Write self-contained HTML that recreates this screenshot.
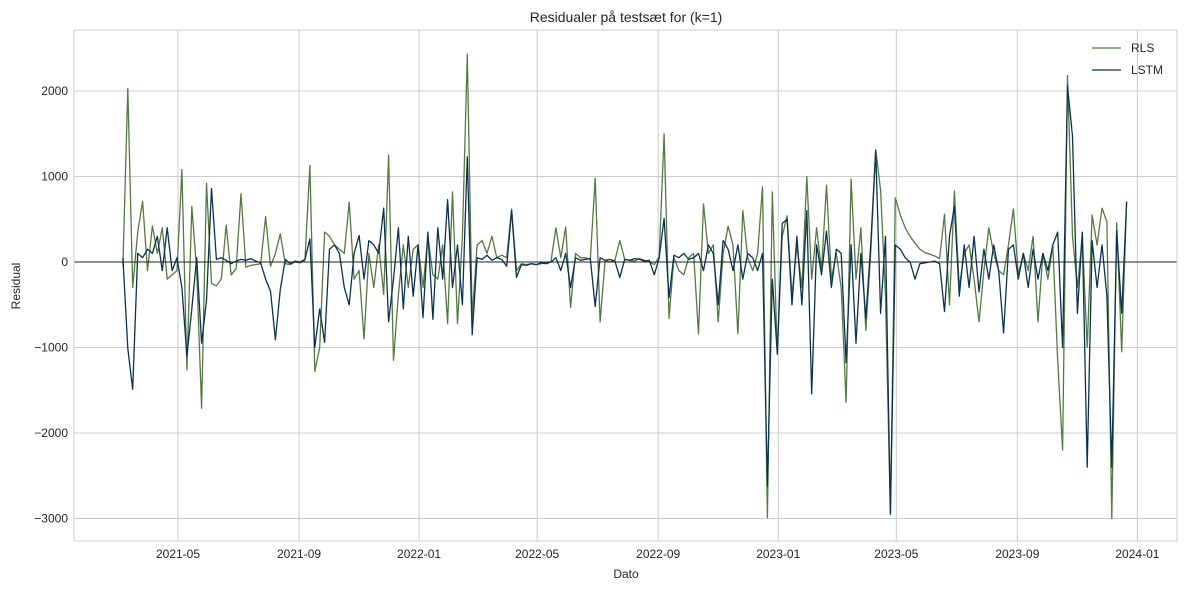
<!DOCTYPE html>
<html><head><meta charset="utf-8"><style>
html,body{margin:0;padding:0;background:#fff;}
svg text{font-family:"Liberation Sans",Arial,sans-serif;fill:#262626;}
</style></head><body>
<svg id="chart" width="1189" height="590" xmlns="http://www.w3.org/2000/svg">
<text x="626" y="22" text-anchor="middle" font-size="14">Residualer på testsæt for (k=1)</text>
<text x="626" y="578" text-anchor="middle" font-size="12">Dato</text>
<text transform="translate(20,286) rotate(-90)" text-anchor="middle" font-size="12">Residual</text>
<g id="grid"></g>
<g id="series"></g>
<rect x="74" y="30" width="1103" height="511" fill="none" stroke="#cccccc" stroke-width="1"/>
<g>
<line x1="1092" y1="48" x2="1121" y2="48" stroke="#557a41" stroke-width="1.3"/>
<text x="1131" y="52" font-size="12">RLS</text>
<line x1="1092" y1="70" x2="1121" y2="70" stroke="#0b3350" stroke-width="1.3"/>
<text x="1131" y="74" font-size="12">LSTM</text>
</g>
</svg>
<script>
const startDate = "2021-03-06";
const stepDays = 5;
const yTicks = [2000, 1000, 0, -1000, -2000, -3000];
const yTickLabels = ["2000", "1000", "0", "\u22121000", "\u22122000", "\u22123000"];
const xTickDates = ["2021-05-01","2021-09-01","2022-01-01","2022-05-01","2022-09-01","2023-01-01","2023-05-01","2023-09-01","2024-01-01"];
const xTickLabels = ["2021-05","2021-09","2022-01","2022-05","2022-09","2023-01","2023-05","2023-09","2024-01"];
const rlsValues = [-50,2030,-300,350,710,-100,420,100,400,-200,-150,-100,
1080,-1260,650,-100,-1710,920,-250,-280,-200,430,-150,-80,
800,-60,-40,-30,-20,530,-50,100,330,-20,-30,0,-10,20,
1130,-1280,-1000,350,300,200,150,100,700,-200,-100,-900,
100,-300,200,-380,1250,-1150,-380,200,-300,150,200,-300,
300,-150,-200,200,-720,820,-720,300,2430,-650,200,250,
100,300,50,80,50,620,-100,-20,-30,-20,-30,-20,-10,
0,400,50,410,-530,100,50,50,30,980,-700,20,0,20,
250,30,20,10,40,20,0,-30,60,1500,-660,50,
-100,-150,50,100,-840,680,100,200,-700,100,420,
200,-840,600,50,-100,100,880,-2990,820,-1080,
300,540,-400,200,-300,1000,-200,400,-100,900,-200,
100,-300,-1640,970,-200,400,-800,100,1310,840,-400,-2940,
750,550,400,300,220,150,110,90,70,40,
560,-500,830,-300,100,200,-200,-700,-100,400,100,
-100,-150,200,620,-150,100,-100,300,-700,100,-200,200,
-1150,-2200,2180,300,-300,300,-1000,550,200,630,470,-3000,460,-1050,710];
const lstmValues = [50,-1010,-1490,100,50,150,100,300,-100,400,-100,50,
-300,-1100,-550,50,-950,-450,860,30,50,20,-20,10,
30,20,40,10,-10,-200,-340,-910,-320,30,-20,10,0,30,
270,-1000,-550,-940,150,200,100,-300,-500,100,310,-200,
250,200,100,630,-700,-200,400,-550,300,-400,200,-650,
350,-670,400,-200,730,-300,200,-500,1230,-850,50,30,
80,20,50,30,-50,600,-180,-30,-40,-20,-30,-10,-20,
0,50,-100,100,-300,50,20,30,40,-520,50,20,30,10,
-180,30,20,40,30,10,20,-150,50,510,-420,80,
50,100,30,50,100,-100,200,100,-500,250,150,
-100,200,-200,100,50,-100,100,-2620,-200,-1070,
450,500,-500,300,-500,600,-1540,200,-150,360,-300,
150,100,-1180,200,-950,100,-660,200,1310,-600,300,-2950,
200,150,50,0,-200,-20,-10,0,10,-20,
-580,300,650,-400,200,-300,300,-350,150,-200,200,
-100,-830,150,200,-200,100,-300,150,-200,100,-100,200,
350,-1000,2060,1470,-600,350,-2400,250,-300,200,-400,-2400,360,-600,700];

const NS = "http://www.w3.org/2000/svg";
const x0Date = new Date("2021-05-01T00:00:00Z").getTime();
const DAY = 86400000;
function xScale(d){ return 178 + (d - x0Date)/DAY * 0.984; }
function yScale(v){ return 262 - v * 0.0855; }
const startMs = new Date(startDate + "T00:00:00Z").getTime();
function dateAt(i){ return startMs + i*stepDays*DAY; }

const grid = document.getElementById('grid');
const svg = document.getElementById('chart');
yTicks.forEach((v,k)=>{
  const l = document.createElementNS(NS,'line');
  l.setAttribute('x1',74); l.setAttribute('x2',1177);
  l.setAttribute('y1',yScale(v)); l.setAttribute('y2',yScale(v));
  l.setAttribute('stroke','#cccccc'); l.setAttribute('stroke-width','1');
  
  
  grid.appendChild(l);
  const t = document.createElementNS(NS,'text');
  t.setAttribute('x',68); t.setAttribute('y',yScale(v)+4);
  t.setAttribute('text-anchor','end'); t.setAttribute('font-size','12');
  t.textContent = yTickLabels[k];
  
  
  svg.appendChild(t);
});
xTickDates.forEach((d,k)=>{
  const x = xScale(new Date(d+"T00:00:00Z").getTime());
  const l = document.createElementNS(NS,'line');
  l.setAttribute('x1',x); l.setAttribute('x2',x);
  l.setAttribute('y1',30); l.setAttribute('y2',541);
  l.setAttribute('stroke','#cccccc'); l.setAttribute('stroke-width','1');
  
  
  grid.appendChild(l);
  const t = document.createElementNS(NS,'text');
  t.setAttribute('x',x); t.setAttribute('y',558);
  t.setAttribute('text-anchor','middle'); t.setAttribute('font-size','12');
  t.textContent = xTickLabels[k];
  
  
  svg.appendChild(t);
});
const series = document.getElementById('series');
function drawLine(vals,color,name){
  const pts = vals.map((v,i)=> xScale(dateAt(i)).toFixed(1)+","+yScale(v).toFixed(1)).join(" ");
  const p = document.createElementNS(NS,'polyline');
  p.setAttribute('points',pts); p.setAttribute('fill','none');
  p.setAttribute('stroke',color); p.setAttribute('stroke-width','1.3');
  p.setAttribute('stroke-linejoin','round');
  
  
  series.appendChild(p);
}
drawLine(rlsValues,'#557a41','rls-line');
drawLine(lstmValues,'#0b3350','lstm-line');
const z = document.createElementNS(NS,'line');
z.setAttribute('x1',74); z.setAttribute('x2',1177);
z.setAttribute('y1',yScale(0)); z.setAttribute('y2',yScale(0));
z.setAttribute('stroke','#222'); z.setAttribute('stroke-width','1');


series.appendChild(z);
</script>
</body></html>
